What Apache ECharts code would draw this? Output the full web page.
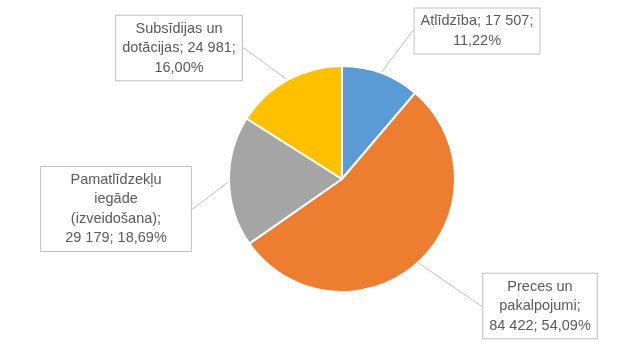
<!DOCTYPE html>
<html><head><meta charset="utf-8">
<script src="https://cdn.jsdelivr.net/npm/echarts@6/dist/echarts.min.js"></script>
<style>html,body{margin:0;padding:0;background:#fff}#c{width:643px;height:352px}</style>
</head><body><div id="c"></div>
<script>
// Data
const categories = ['Atlīdzība', 'Preces un pakalpojumi', 'Pamatlīdzekļu iegāde (izveidošana)', 'Subsīdijas un dotācijas'];
const values = [17507, 84422, 29179, 24981];
const colors = ['#5B9BD5', '#ED7D31', '#A5A5A5', '#FFC000'];
// label wrapping as in the reference (display lines)
const labelNameLines = [['Atlīdzība'], ['Preces un', 'pakalpojumi'], ['Pamatlīdzekļu', 'iegāde', '(izveidošana)'], ['Subsīdijas un', 'dotācijas']];
const breakAfterName = [false, true, true, false];
const breakAfterValue = [true, false, false, true];
// label box centres and horizontal paddings
const labelPos = [[477, 31], [540, 306], [116, 209], [179, 48]];
const labelPadX = [6, 6, 24, 6];

function fmtNum(v) { return String(v).replace(/\B(?=(\d{3})+(?!\d))/g, ' '); }

const chart = echarts.init(document.getElementById('c'), null, { renderer: 'canvas' });
chart.setOption({
  animation: false,
  series: [{
    type: 'pie',
    center: [342, 179],
    radius: 113,
    startAngle: 90,
    clockwise: true,
    percentPrecision: 2,
    data: categories.map((n, i) => ({
      name: n, value: values[i],
      itemStyle: { color: colors[i] },
      label: { padding: [3, labelPadX[i]] }
    })),
    itemStyle: { borderColor: '#fff', borderWidth: 2 },
    label: {
      show: true,
      formatter: p => {
        const i = p.dataIndex;
        return labelNameLines[i].join('\n') + ';' + (breakAfterName[i] ? '\n' : ' ') +
          fmtNum(p.value) + ';' + (breakAfterValue[i] ? '\n' : ' ') +
          p.percent.toFixed(2).replace('.', ',') + '%';
      },
      fontFamily: 'Liberation Sans',
      fontSize: 14.5,
      lineHeight: 19.5,
      color: '#595959',
      align: 'center',
      backgroundColor: '#fff',
      borderColor: '#BFBFBF',
      borderWidth: 1
    },
    labelLine: { show: true, lineStyle: { color: '#BFBFBF', width: 1 }, length: 1, length2: 1 },
    labelLayout: params => ({
      x: labelPos[params.dataIndex][0],
      y: labelPos[params.dataIndex][1],
      align: 'center',
      verticalAlign: 'middle'
    })
  }]
});
</script></body></html>
